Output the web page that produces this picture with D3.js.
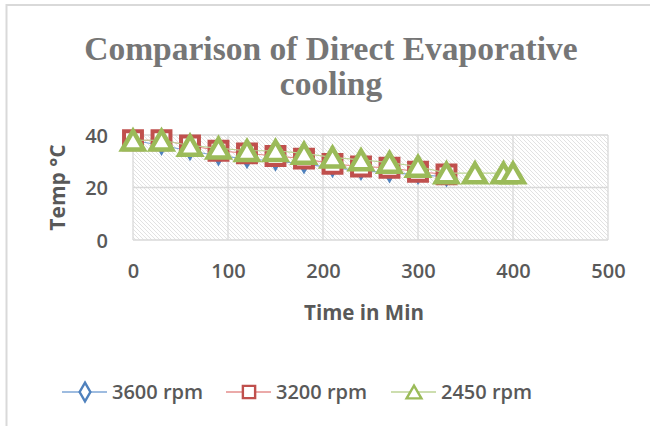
<!DOCTYPE html>
<html>
<head>
<meta charset="utf-8">
<script src="https://cdn.jsdelivr.net/npm/d3@7"></script>
<style>
  html, body { margin: 0; padding: 0; background: #fff; }
  svg { display: block; }
</style>
</head>
<body>
<svg id="chart" width="650" height="426"></svg>
<script>
// Time (min) and temperature (°C) for each fan speed
const time3600 = [0, 30, 60, 90, 120, 150, 180, 210, 240, 270, 300, 330];
const temp3600 = [38, 36, 34, 32, 31, 30, 29, 27.5, 26.5, 25.5, 25, 24];
const time3200 = [0, 30, 60, 90, 120, 150, 180, 210, 240, 270, 300, 330];
const temp3200 = [38, 38, 36, 34, 33, 32, 31, 29, 28, 27.5, 26, 25];
const time2450 = [0, 30, 60, 90, 120, 150, 180, 210, 240, 270, 300, 330, 360, 390, 400];
const temp2450 = [38, 38, 36, 35, 34, 34, 33, 31.5, 30.5, 29.5, 28, 25.5, 25.5, 25.5, 25.5];

const seriesNames = ["3600 rpm", "3200 rpm", "2450 rpm"];
const xTicks = [0, 100, 200, 300, 400, 500];
const yTicks = [0, 20, 40];

const titleLines = ["Comparison of Direct Evaporative", "cooling"];
const xTitle = "Time in Min";
const yTitle = "Temp °C";

const svg = d3.select("#chart");
const W = 650, H = 426;
const plot = { left: 133, right: 608, top: 135, bottom: 240 };

// outer chart frame
svg.append("path")
  .attr("d", `M6.5,${H} L6.5,5 L${W},5`)
  .attr("fill", "none")
  .attr("stroke", "#d9d9d9")
  .attr("stroke-width", 2);

// title
const title = svg.append("text")
  .attr("text-anchor", "middle")
  .attr("fill", "#767676")
  .attr("font-family", "'Liberation Serif', 'DejaVu Serif', serif")
  .attr("font-weight", "bold")
  .attr("font-size", 33.5);
title.append("tspan").attr("x", 331).attr("y", 60).text(titleLines[0]);
title.append("tspan").attr("x", 331).attr("y", 95).text(titleLines[1]);

const x = d3.scaleLinear().domain([0, 500]).range([plot.left, plot.right]);
const y = d3.scaleLinear().domain([0, 40]).range([plot.bottom, plot.top]);

// diagonal hatch fill for the plot area
const defs = svg.append("defs");
const pat = defs.append("pattern")
  .attr("id", "hatch")
  .attr("patternUnits", "userSpaceOnUse")
  .attr("width", 4).attr("height", 4);
pat.append("rect").attr("width", 4).attr("height", 4).attr("fill", "#fff");
pat.append("path")
  .attr("d", "M-1,-1 L5,5 M-1,3 L1,5 M3,-1 L5,1")
  .attr("stroke", "#e2e2e2")
  .attr("stroke-width", 1);

svg.append("rect")
  .attr("x", plot.left).attr("y", plot.top)
  .attr("width", plot.right - plot.left).attr("height", plot.bottom - plot.top)
  .attr("fill", "url(#hatch)");

// gridlines
const grid = svg.append("g").attr("stroke", "#d9d9d9").attr("stroke-width", 1.3);
yTicks.forEach(t => grid.append("line")
  .attr("x1", plot.left).attr("x2", plot.right)
  .attr("y1", y(t)).attr("y2", y(t)));
xTicks.forEach(t => grid.append("line")
  .attr("y1", plot.top).attr("y2", plot.bottom)
  .attr("x1", x(t)).attr("x2", x(t)));

// axes (labels only, lines hidden)
const labelFont = "'Open Sans', 'Noto Sans', sans-serif";
const xAxis = svg.append("g")
  .attr("transform", `translate(0,${plot.bottom})`)
  .call(d3.axisBottom(x).tickValues(xTicks).tickSize(0).tickPadding(24));
const yAxis = svg.append("g")
  .attr("transform", `translate(${plot.left},0)`)
  .call(d3.axisLeft(y).tickValues(yTicks).tickSize(0).tickPadding(25));
[xAxis, yAxis].forEach(a => {
  a.select(".domain").remove();
  a.selectAll("text")
    .attr("font-family", labelFont)
    .attr("font-size", 20)
    .attr("font-weight", 600)
    .attr("fill", "#595959");
});
xAxis.selectAll("text").attr("dy", "0.72em");
yAxis.selectAll("text").attr("dy", "0.36em");

// axis titles
svg.append("text")
  .attr("x", 364).attr("y", 320)
  .attr("text-anchor", "middle")
  .attr("font-family", labelFont).attr("font-weight", "bold")
  .attr("font-size", 20.5).attr("fill", "#595959")
  .text(xTitle);
svg.append("text")
  .attr("transform", `translate(65,${(plot.top + plot.bottom) / 2}) rotate(-90)`)
  .attr("text-anchor", "middle")
  .attr("font-family", labelFont).attr("font-weight", "bold")
  .attr("font-size", 21).attr("fill", "#595959")
  .text(yTitle);

// series
const series = [
  { name: seriesNames[0], xs: time3600, ys: temp3600, color: "#4f81bd", line: "#7ea6d6",
    symbol: d3.symbolDiamond, size: 75, lw: 2.5, fill: "#4f81bd", legSize: 100 },
  { name: seriesNames[1], xs: time3200, ys: temp3200, color: "#c0504d", line: "#e58e8c",
    symbol: d3.symbolSquare, size: 320, lw: 4, fill: "#fff", legSize: 150 },
  { name: seriesNames[2], xs: time2450, ys: temp2450, color: "#9bbb59", line: "#bcd395",
    symbol: d3.symbolTriangle, size: 200, lw: 4.5, fill: "#fff", legSize: 95 }
];

// d3 centres triangles on their centroid; shift so the bounding box is centred
function boxShift(s, size) {
  return s === d3.symbolTriangle ? Math.sqrt(size / (Math.sqrt(3) * 3)) / 2 : 0;
}

const lineGen = d3.line().x(d => x(d[0])).y(d => y(d[1]));

series.forEach(s => {
  const pts = s.xs.map((t, i) => [t, s.ys[i]]);
  svg.append("path")
    .datum(pts)
    .attr("d", lineGen)
    .attr("fill", "none")
    .attr("stroke", s.line)
    .attr("stroke-width", 1.2);
  const dy = boxShift(s.symbol, s.size);
  svg.append("g").selectAll("path")
    .data(pts)
    .join("path")
    .attr("transform", d => `translate(${x(d[0])},${y(d[1]) + dy})`)
    .attr("d", d3.symbol().type(s.symbol).size(s.size))
    .attr("fill", s.fill)
    .attr("stroke", s.color)
    .attr("stroke-width", s.lw)
    .attr("stroke-linejoin", "miter");
});

// legend
const legendY = 392;
const legendX = [85, 249, 414];
series.forEach((s, i) => {
  const g = svg.append("g").attr("transform", `translate(${legendX[i]},${legendY})`);
  g.append("line")
    .attr("x1", -23).attr("x2", 22)
    .attr("stroke", s.line).attr("stroke-width", 1.3);
  g.append("path")
    .attr("transform", `translate(0,${boxShift(s.symbol, s.legSize)})`)
    .attr("d", d3.symbol().type(s.symbol).size(s.legSize))
    .attr("fill", "#fff")
    .attr("stroke", s.color)
    .attr("stroke-width", 2.4);
  g.append("text")
    .attr("x", 27).attr("dy", "0.36em")
    .attr("font-family", labelFont)
    .attr("font-size", 20).attr("font-weight", 600)
    .attr("fill", "#595959")
    .text(s.name);
});
</script>
</body>
</html>
